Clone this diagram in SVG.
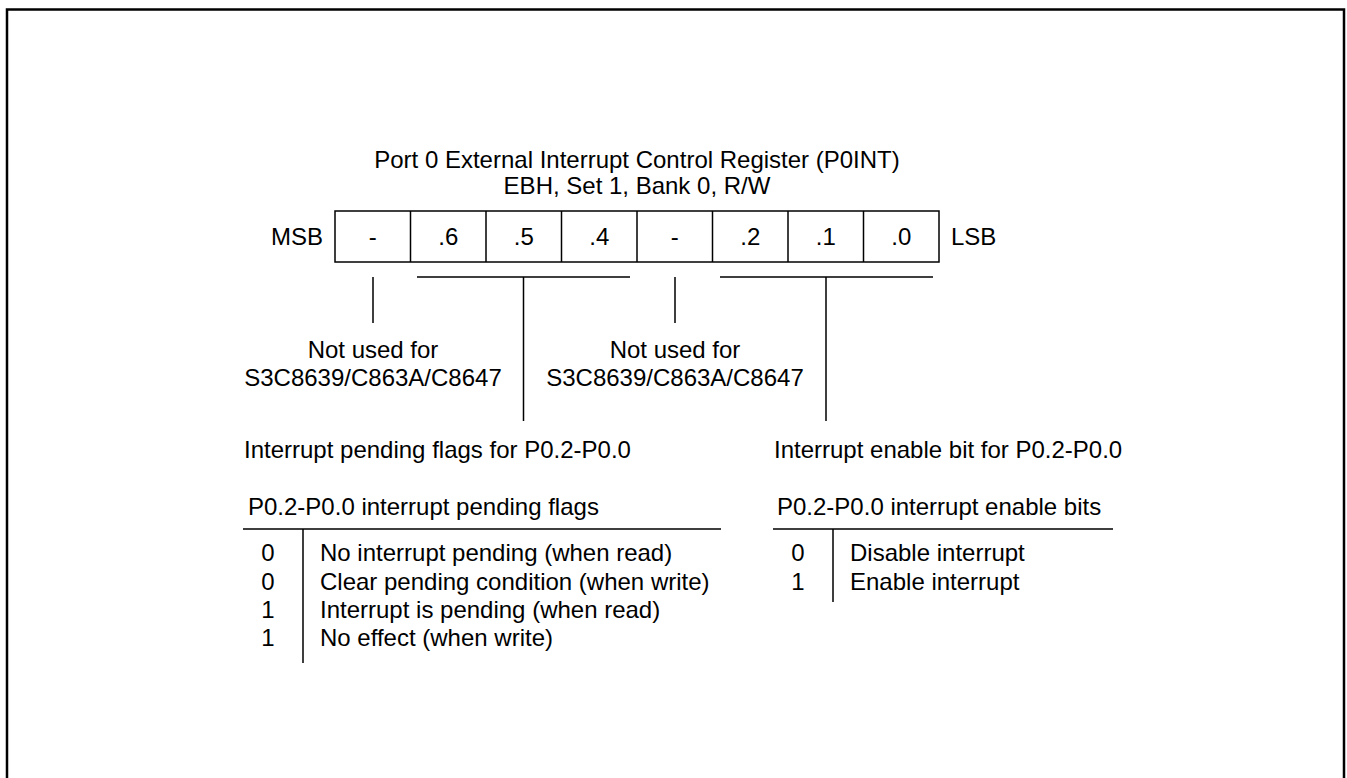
<svg xmlns="http://www.w3.org/2000/svg" width="1347" height="778" viewBox="0 0 1347 778">
<style>
text{font-family:"Liberation Sans",Arial,sans-serif;font-size:24px;fill:#000}
.c{text-anchor:middle}
.e{text-anchor:end}
.ln{stroke:#000;stroke-width:1.5;fill:none}
</style>
<rect width="1347" height="778" fill="#fff"/>
<path d="M7,780 V9.5 H1344 V780" fill="none" stroke="#000" stroke-width="2.5"/>
<g id="title">
<text class="c" x="637" y="168">Port 0 External Interrupt Control Register (P0INT)</text>
<text class="c" x="637" y="194">EBH, Set 1, Bank 0, R/W</text>
</g>
<g id="register">
<text class="e" x="323" y="245">MSB</text>
<text x="951" y="245">LSB</text>
<rect class="ln" x="335" y="211" width="604" height="51"/>
<path class="ln" d="M410.5,211V262M486,211V262M561.5,211V262M637,211V262M712.5,211V262M788,211V262M863.5,211V262"/>
<text class="c" x="372.75" y="245">-</text>
<text class="c" x="448.25" y="245">.6</text>
<text class="c" x="523.75" y="245">.5</text>
<text class="c" x="599.25" y="245">.4</text>
<text class="c" x="674.75" y="245">-</text>
<text class="c" x="750.25" y="245">.2</text>
<text class="c" x="825.75" y="245">.1</text>
<text class="c" x="901.25" y="245">.0</text>
</g>
<g id="connectors">
<path class="ln" d="M373,277V323M675,277V323M417,277H630M523.5,277V421M720,277H933M826,277V421"/>
</g>
<g id="note7">
<text class="c" x="373" y="358">Not used for</text>
<text class="c" x="373" y="386">S3C8639/C863A/C8647</text>
</g>
<g id="note3">
<text class="c" x="675" y="358">Not used for</text>
<text class="c" x="675" y="386">S3C8639/C863A/C8647</text>
</g>
<g id="pending">
<text x="244" y="458">Interrupt pending flags for P0.2-P0.0</text>
<text x="248" y="515">P0.2-P0.0 interrupt pending flags</text>
<path class="ln" d="M243,529H721M303,529V663"/>
<text class="c" x="268" y="561">0</text>
<text class="c" x="268" y="590">0</text>
<text class="c" x="268" y="618">1</text>
<text class="c" x="268" y="646">1</text>
<text x="320" y="561">No interrupt pending (when read)</text>
<text x="320" y="590">Clear pending condition (when write)</text>
<text x="320" y="618">Interrupt is pending (when read)</text>
<text x="320" y="646">No effect (when write)</text>
</g>
<g id="enable">
<text x="774" y="458">Interrupt enable bit for P0.2-P0.0</text>
<text x="777" y="515">P0.2-P0.0 interrupt enable bits</text>
<path class="ln" d="M773,529H1113M833,529V602"/>
<text class="c" x="798" y="561">0</text>
<text class="c" x="798" y="590">1</text>
<text x="850" y="561">Disable interrupt</text>
<text x="850" y="590">Enable interrupt</text>
</g>
</svg>
